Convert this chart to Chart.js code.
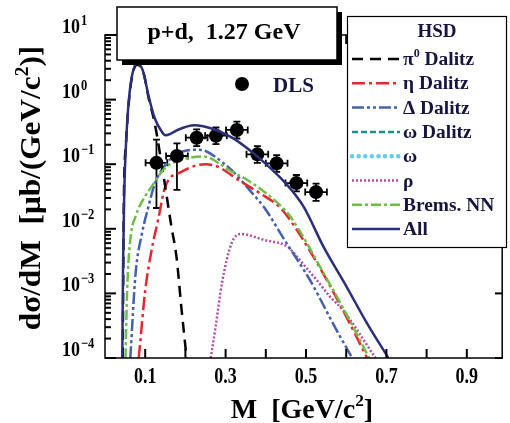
<!DOCTYPE html>
<html>
<head>
<meta charset="utf-8">
<script src="https://cdn.jsdelivr.net/npm/chart.js@4.4.1/dist/chart.umd.min.js"></script>
<style>
  html, body { margin: 0; padding: 0; background: #fff; }
  canvas { display: block; }
</style>
</head>
<body>
<canvas id="dilepton" width="510" height="423"></canvas>
<script>
// --- values (M in GeV/c^2, dsigma/dM in mub/(GeV/c^2)) ---
const pi0Mass  = [0.044, 0.047, 0.052, 0.059, 0.0675, 0.08, 0.096, 0.108, 0.124, 0.145, 0.165, 0.178, 0.19, 0.203];
const pi0Value = [1e-4, 0.03, 0.2, 0.88, 2.3, 3.45, 2.55, 1.1, 0.42, 0.07, 0.011, 0.0036, 6e-4, 1e-4];

const etaMass  = [0.084, 0.1, 0.116, 0.132, 0.15, 0.19, 0.25, 0.283, 0.332, 0.397, 0.43, 0.454, 0.527, 0.592, 0.652];
const etaValue = [1e-4, 0.0011, 0.0047, 0.0137, 0.045, 0.076, 0.1, 0.09, 0.057, 0.032, 0.023, 0.0155, 0.003, 5.5e-4, 1e-4];

const deltaMass  = [0.063, 0.076, 0.092, 0.108, 0.124, 0.157, 0.19, 0.23, 0.25, 0.29, 0.315, 0.364, 0.397, 0.446, 0.51, 0.576, 0.615];
const deltaValue = [1e-4, 0.002, 0.0085, 0.022, 0.05, 0.11, 0.155, 0.167, 0.16, 0.11, 0.081, 0.037, 0.021, 0.0068, 0.0016, 2.7e-4, 1e-4];

const rhoMass  = [0.263, 0.275, 0.291, 0.315, 0.338, 0.397, 0.454, 0.47, 0.494, 0.527, 0.559, 0.592, 0.673];
const rhoValue = [1e-4, 3e-4, 1.45e-3, 6e-3, 8.3e-3, 6.7e-3, 5.3e-3, 4.2e-3, 2.8e-3, 1.6e-3, 9e-4, 5.5e-4, 1e-4];

const bremsMass  = [0.051, 0.055, 0.063, 0.076, 0.1, 0.116, 0.149, 0.19, 0.246, 0.283, 0.307, 0.356, 0.43, 0.461, 0.543, 0.608, 0.657];
const bremsValue = [1e-4, 0.0011, 0.0068, 0.0155, 0.032, 0.045, 0.087, 0.117, 0.132, 0.104, 0.082, 0.056, 0.025, 0.0155, 0.0021, 3.9e-4, 1e-4];

const allMass  = [0.043, 0.045, 0.048, 0.053, 0.059, 0.0675, 0.08, 0.09, 0.096, 0.108, 0.124, 0.141, 0.15, 0.165, 0.181, 0.222, 0.263, 0.315, 0.38, 0.454, 0.494, 0.544, 0.6, 0.65, 0.705];
const allValue = [1e-4, 0.003, 0.04, 0.25, 0.93, 2.4, 3.7, 3.2, 2.6, 1.17, 0.51, 0.32, 0.28, 0.3, 0.34, 0.4, 0.36, 0.26, 0.13, 0.047, 0.022, 0.0052, 0.0013, 3.6e-4, 1e-4];

const dlsMass    = [0.128, 0.179, 0.228, 0.276, 0.328, 0.379, 0.427, 0.476, 0.525];
const dlsValue   = [0.105, 0.134, 0.257, 0.276, 0.339, 0.142, 0.103, 0.051, 0.037];
const dlsLow     = [0.021, 0.040, 0.19, 0.205, 0.25, 0.105, 0.076, 0.038, 0.027];
const dlsHigh    = [0.24, 0.21, 0.345, 0.37, 0.455, 0.19, 0.138, 0.068, 0.05];
const dlsMassErr = [0.027, 0.027, 0.027, 0.027, 0.027, 0.027, 0.027, 0.027, 0.027];

const xTickValues  = [0.1, 0.2, 0.3, 0.4, 0.5, 0.6, 0.7, 0.8, 0.9];
const xLabelValues = [0.1, 0.3, 0.5, 0.7, 0.9];
const yDecades     = [-4, -3, -2, -1, 0, 1];

const FONT = '"Liberation Serif", "Times New Roman", serif';

function series(m, v) {
    return m.map((x, i) => ({ x: x, y: v[i] }));
}

// "abc^{2}" -> [{t:'abc'}, {t:'2', sup:true}]
function richParts(str) {
    const out = [];
    const bits = str.split(/\^\{([^}]*)\}/);
    bits.forEach((b, i) => { if (b !== '') out.push({ t: b, sup: i % 2 === 1 }); });
    return out;
}

function drawRich(ctx, str, x, y, size, opt) {
    opt = opt || {};
    const sy = opt.sy || 1;
    const sx = opt.sx || 1;
    const supSize = size * 0.62;
    const parts = richParts(str);
    let w = 0;
    parts.forEach(p => {
        ctx.font = 'bold ' + (p.sup ? supSize : size) + 'px ' + FONT;
        p.w = ctx.measureText(p.t).width;
        w += p.w;
    });
    let cx = 0;
    if (opt.align === 'center') cx = -w / 2;
    if (opt.align === 'right') cx = -w;
    ctx.save();
    ctx.translate(x, y);
    ctx.scale(sx, sy);
    ctx.fillStyle = opt.color || '#000';
    ctx.textBaseline = 'alphabetic';
    ctx.textAlign = 'left';
    parts.forEach(p => {
        ctx.font = 'bold ' + (p.sup ? supSize : size) + 'px ' + FONT;
        ctx.fillText(p.t, cx, p.sup ? -size * 0.42 : 0);
        cx += p.w;
    });
    ctx.restore();
}

const plotExtras = {
    id: 'plotExtras',
    beforeDatasetsDraw(chart) {
        const ctx = chart.ctx;
        const xs = chart.scales.x, ys = chart.scales.y;
        ctx.save();
        ctx.setLineDash([]);
        ctx.strokeStyle = '#000';
        ctx.lineWidth = 1.8;
        dlsMass.forEach((m, i) => {
            const px = xs.getPixelForValue(m);
            const py = ys.getPixelForValue(dlsValue[i]);
            const lo = ys.getPixelForValue(dlsLow[i]);
            const hi = ys.getPixelForValue(dlsHigh[i]);
            const l = xs.getPixelForValue(m - dlsMassErr[i]);
            const r = xs.getPixelForValue(m + dlsMassErr[i]);
            ctx.beginPath();
            ctx.moveTo(px, lo); ctx.lineTo(px, hi);
            ctx.moveTo(px - 3.5, lo); ctx.lineTo(px + 3.5, lo);
            ctx.moveTo(px - 3.5, hi); ctx.lineTo(px + 3.5, hi);
            ctx.moveTo(l, py); ctx.lineTo(r, py);
            ctx.moveTo(l, py - 3.5); ctx.lineTo(l, py + 3.5);
            ctx.moveTo(r, py - 3.5); ctx.lineTo(r, py + 3.5);
            ctx.stroke();
        });
        ctx.restore();
    },
    afterDraw(chart) {
        const ctx = chart.ctx;
        const a = chart.chartArea;
        const xs = chart.scales.x, ys = chart.scales.y;
        ctx.save();
        ctx.setLineDash([]);

        // frame
        ctx.strokeStyle = '#000';
        ctx.lineWidth = 1.5;
        ctx.strokeRect(a.left, a.top, a.right - a.left - 0.8, a.bottom - a.top);

        // inward ticks
        ctx.fillStyle = '#000';
        xTickValues.forEach(v => {
            const px = xs.getPixelForValue(v);
            ctx.fillRect(px - 1, a.bottom - 9, 2, 9);
            ctx.fillRect(px - 1, a.top, 2, 9);
        });
        yDecades.forEach(d => {
            for (let k = 1; k <= 9; k++) {
                const v = k * Math.pow(10, d);
                if (v < 0.99e-4 || v > 10.01) continue;
                const py = ys.getPixelForValue(v);
                ctx.fillRect(a.left, py - 1, k === 1 ? 11 : 6, 2);
                if (k === 1) ctx.fillRect(a.right - 8, py - 1, 8, 2);
            }
        });

        // tick labels
        xLabelValues.forEach(v => {
            drawRich(ctx, v.toFixed(1), xs.getPixelForValue(v), 383, 18, { align: 'center', sy: 1.25 });
        });
        yDecades.forEach(d => {
            const py = ys.getPixelForValue(Math.pow(10, d));
            drawRich(ctx, '10', 80, py - 2, 18, { align: 'right', sy: 1.2 });
            drawRich(ctx, (d < 0 ? '\u2212' : '') + Math.abs(d), 81, py - 10, 12.5, { align: 'left', sy: 1.2 });
        });

        // axis titles
        drawRich(ctx, 'M  [GeV/c^{2}]', 302, 418, 28, { align: 'center' });
        ctx.save();
        ctx.translate(40, 188);
        ctx.rotate(-Math.PI / 2);
        drawRich(ctx, 'd\u03c3/dM  [\u03bcb/(GeV/c^{2})]', 0, 0, 29, { align: 'center', sx: 1.08 });
        ctx.restore();

        // title box with shadow
        ctx.fillStyle = '#000';
        ctx.fillRect(122, 12, 220, 53);
        ctx.fillStyle = '#fff';
        ctx.fillRect(117, 7, 220, 53);
        ctx.lineWidth = 1.5;
        ctx.strokeRect(117, 7, 220, 53);
        drawRich(ctx, 'p+d,  1.27 GeV', 224, 39, 24, { align: 'center' });

        // DLS key
        ctx.fillStyle = '#000';
        ctx.beginPath();
        ctx.arc(242, 84, 7, 0, Math.PI * 2);
        ctx.fill();
        drawRich(ctx, 'DLS', 273, 92, 21, { color: '#151540' });

        // model legend box
        ctx.fillStyle = '#fff';
        ctx.fillRect(347, 16, 159, 231);
        ctx.lineWidth = 1.2;
        ctx.strokeStyle = '#000';
        ctx.strokeRect(347.5, 16.5, 159, 231);
        drawRich(ctx, 'HSD', 437, 37, 19, { align: 'center', color: '#151540' });
        const models = chart.data.datasets.filter(ds => ds.label !== 'DLS');
        models.forEach((ds, i) => {
            const ry = 59 + i * 24.3;
            ctx.save();
            ctx.strokeStyle = ds.borderColor;
            ctx.lineWidth = ds.borderWidth;
            ctx.lineCap = ds.borderCapStyle || 'butt';
            ctx.setLineDash(ds.borderDash || []);
            ctx.beginPath();
            ctx.moveTo(352, ry); ctx.lineTo(400, ry);
            ctx.stroke();
            ctx.restore();
            drawRich(ctx, ds.label, 403, ry + 6, 18.5, { color: '#151540', sx: 1.05 });
        });

        ctx.restore();
    }
};

const lineDefaults = { pointRadius: 0, borderWidth: 2.5, cubicInterpolationMode: 'monotone', fill: false };

new Chart(document.getElementById('dilepton'), {
    type: 'line',
    data: {
        datasets: [
            Object.assign({}, lineDefaults, { label: '\u03c0^{0} Dalitz', data: series(pi0Mass, pi0Value), borderColor: '#000000', borderDash: [11, 7], order: 3 }),
            Object.assign({}, lineDefaults, { label: '\u03b7 Dalitz', data: series(etaMass, etaValue), borderColor: '#e8262d', borderDash: [13, 4, 3, 4], order: 4 }),
            Object.assign({}, lineDefaults, { label: '\u0394 Dalitz', data: series(deltaMass, deltaValue), borderColor: '#4460b0', borderDash: [12, 3, 3, 3, 3, 3], order: 5 }),
            Object.assign({}, lineDefaults, { label: '\u03c9 Dalitz', data: [], borderColor: '#17908f', borderDash: [6, 3], order: 6 }),
            Object.assign({}, lineDefaults, { label: '\u03c9', data: [], borderColor: '#66cde6', borderDash: [0.1, 6.5], borderCapStyle: 'round', borderWidth: 4.5, order: 7 }),
            Object.assign({}, lineDefaults, { label: '\u03c1', data: series(rhoMass, rhoValue), borderColor: '#b24aa6', borderDash: [2, 2], order: 8 }),
            Object.assign({}, lineDefaults, { label: 'Brems. NN', data: series(bremsMass, bremsValue), borderColor: '#6cbf47', borderDash: [10, 3, 3, 3], order: 2 }),
            Object.assign({}, lineDefaults, { label: 'All', data: series(allMass, allValue), borderColor: '#2a2f7c', order: 0 }),
            { label: 'DLS', data: series(dlsMass, dlsValue), showLine: false, pointRadius: 7, pointBackgroundColor: '#000', pointBorderColor: '#000', pointBorderWidth: 0, order: 1 }
        ]
    },
    options: {
        responsive: false,
        animation: false,
        events: [],
        layout: { padding: { top: 35, right: 0, left: 0, bottom: 0 } },
        plugins: { legend: { display: false }, tooltip: { enabled: false } },
        scales: {
            x: {
                type: 'linear', min: 0, max: 0.99,
                ticks: { display: false }, grid: { display: false }, border: { display: false },
                afterFit: s => { s.height = 65; }
            },
            y: {
                type: 'logarithmic', min: 1e-4, max: 10,
                ticks: { display: false }, grid: { display: false }, border: { display: false },
                afterFit: s => { s.width = 105; }
            }
        }
    },
    plugins: [plotExtras]
});
</script>
</body>
</html>
